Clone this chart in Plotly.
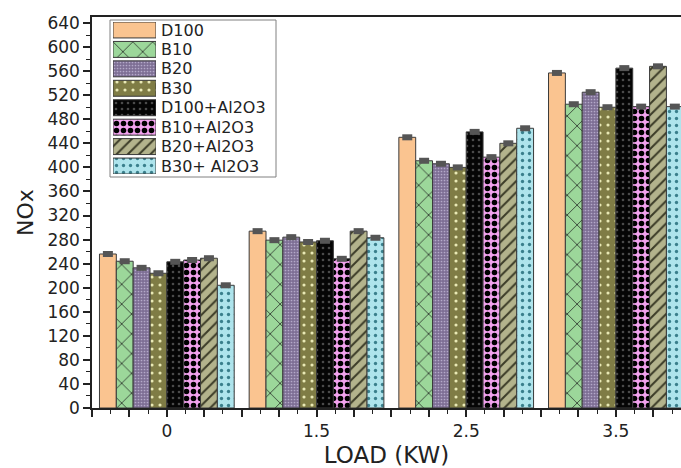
import numpy as np
import plotly.graph_objects as go

# ---- data ----
LOAD_LABELS = ["0", "1.5", "2.5", "3.5"]
SERIES_NAMES = ["D100", "B10", "B20", "B30", "D100+Al2O3", "B10+Al2O3", "B20+Al2O3", "B30+ Al2O3"]

D100 = [256, 294, 450, 557]
B10 = [244, 279, 411, 505]
B20 = [233, 284, 406, 525]
B30 = [224, 276, 400, 500]
D100_AL = [243, 278, 459, 565]
B10_AL = [246, 248, 417, 501]
B20_AL = [249, 294, 440, 568]
B30_AL = [204, 283, 465, 501]

ERR_D100 = [5, 5, 5, 5]
ERR_B10 = [5, 5, 5, 5]
ERR_B20 = [5, 5, 5, 5]
ERR_B30 = [5, 5, 5, 5]
ERR_D100_AL = [5, 5, 5, 5]
ERR_B10_AL = [5, 5, 5, 5]
ERR_B20_AL = [5, 5, 5, 5]
ERR_B30_AL = [5, 5, 5, 5]

VALUES = [D100, B10, B20, B30, D100_AL, B10_AL, B20_AL, B30_AL]
ERRORS = [ERR_D100, ERR_B10, ERR_B20, ERR_B30, ERR_D100_AL, ERR_B10_AL, ERR_B20_AL, ERR_B30_AL]

# ---- styles ----
BG = ["#FAC490", "#9CD79A", "#7E6F95", "#7F7C45", "#050505", "#F2A2EE", "#B3B38C", "#AEE4EC"]
FG = ["#FAC490", "#1a1a1a", "#B4A9C9", "#E9E9B5", "#4a4a4a", "#000000", "#3c3c28", "#3a7f8c"]
SHAPE = ["", "x", ".", ".", ".", ".", "/", "."]
PSIZE = [8, 14, 3, 8, 6, 7, 8, 7]
SOLID = [0.3, 0.1, 0.25, 0.12, 0.15, 0.5, 0.25, 0.18]

FONT = "DejaVu Sans"
W, H = 681, 468
ML, MR, MT, MB = 92, 0, 17, 60
PW, PH = W - ML - MR, H - MT - MB

x_idx = np.arange(len(LOAD_LABELS))


def marker_for(i):
    return dict(color=BG[i], line=dict(color="#3a3a3a", width=1),
                pattern=dict(shape=SHAPE[i], fgcolor=FG[i], bgcolor=BG[i],
                             size=PSIZE[i], solidity=SOLID[i], fillmode="replace"))


fig = go.Figure()
for i, name in enumerate(SERIES_NAMES):
    fig.add_trace(go.Bar(
        x=x_idx, y=VALUES[i], name=name, showlegend=False,
        marker=marker_for(i),
        error_y=dict(type="data", array=ERRORS[i], color="#555555", thickness=10, width=0),
    ))

# legend drawn as an inset bar chart (one swatch per series)
for i, name in enumerate(SERIES_NAMES):
    fig.add_trace(go.Bar(
        y=[i], x=[1], orientation="h", xaxis="x2", yaxis="y2", showlegend=False,
        width=0.82, offset=-0.41, hoverinfo="skip", name=name,
        marker=marker_for(i),
    ))


def px_x(p):
    return (p - ML) / PW


def px_y(p):
    return (H - MB - p) / PH


tickvals = np.arange(-0.5, 3.51, 0.25)
ticktext = [LOAD_LABELS[int(round(v))] if abs(v - round(v)) < 1e-9 and 0 <= round(v) < len(LOAD_LABELS) else ""
            for v in tickvals]

fig.update_layout(
    width=W, height=H, margin=dict(l=ML, r=MR, t=MT, b=MB, autoexpand=False),
    paper_bgcolor="white", plot_bgcolor="white",
    barmode="group", bargap=0.1, bargroupgap=0,
    font=dict(family=FONT, color="#222222", size=16),
    xaxis=dict(range=[-0.5, 3.435], tickmode="array", tickvals=tickvals, ticktext=ticktext,
               ticks="outside", ticklen=7, tickwidth=1.5, tickcolor="#222",
               showline=True, linecolor="#222", linewidth=1.5, mirror=True,
               showgrid=False, zeroline=False,
               tickfont=dict(size=17, family=FONT, color="#222"),
               minor=dict(dtick=0.125, tick0=0, ticks="outside", ticklen=4, tickwidth=1.2, tickcolor="#222"),
               title=dict(text="LOAD (KW)", font=dict(size=23, family=FONT, color="#222"), standoff=7)),
    yaxis=dict(range=[0, 650], tick0=0, dtick=40, ticks="outside", ticklen=7, tickwidth=1.5,
               tickcolor="#222", showline=True, linecolor="#222", linewidth=1.5,
               showgrid=False, zeroline=False,
               tickfont=dict(size=17, family=FONT, color="#222"),
               minor=dict(dtick=20, ticks="outside", ticklen=4, tickwidth=1.2, tickcolor="#222"),
               title=dict(text="NOx", font=dict(size=22, family=FONT, color="#222"), standoff=8)),
    xaxis2=dict(domain=[px_x(113), px_x(156)], range=[0, 1], anchor="y2", visible=False, fixedrange=True),
    yaxis2=dict(domain=[px_y(174), px_y(22)], range=[7.41, -0.41], anchor="x2", side="right",
                tickmode="array", tickvals=list(range(len(SERIES_NAMES))), ticktext=SERIES_NAMES,
                ticks="", showline=False, showgrid=False, zeroline=False, ticklabelstandoff=4,
                tickfont=dict(size=16, family=FONT, color="#222"), fixedrange=True),
    shapes=[dict(type="rect", xref="paper", yref="paper", x0=px_x(110), x1=px_x(276),
                 y0=px_y(177), y1=px_y(20), line=dict(color="#808080", width=1),
                 fillcolor="white", layer="below")],
)

fig.write_html("out.html", config={"displayModeBar": False},
               post_script="document.body.style.margin='0';document.documentElement.style.overflow='hidden';")
